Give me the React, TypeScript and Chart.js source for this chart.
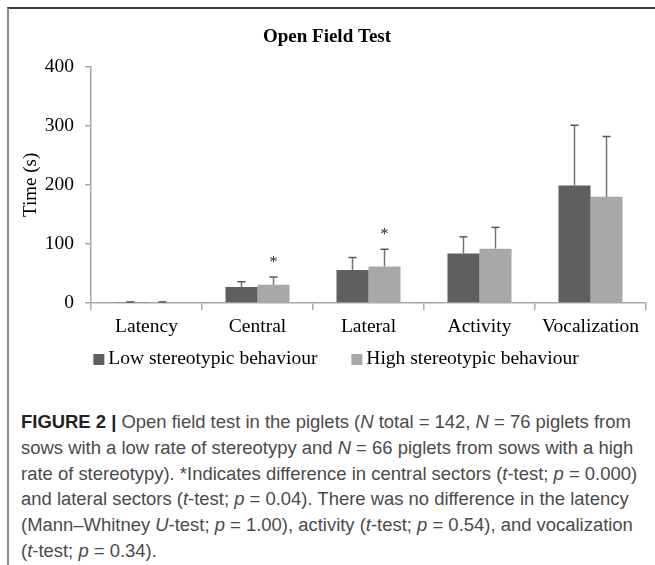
import React, { useEffect, useRef } from 'react';
import { Chart, registerables } from 'chart.js';

Chart.register(...registerables);

const categories = ['Latency', 'Central', 'Lateral', 'Activity', 'Vocalization'];
const lowMeans = [1.5, 27, 56, 84, 199];
const lowSD = [0.3, 9, 21, 28, 102];
const highMeans = [1.5, 31, 62, 92, 180];
const highSD = [0.3, 13, 29, 36, 102];
const significant = [false, true, true, false, false];
const yTicks = [0, 100, 200, 300, 400];
const seriesLabels = ['Low stereotypic behaviour', 'High stereotypic behaviour'];
const seriesColors = ['#5f5f5f', '#a8a8a8'];
const chartTitle = 'Open Field Test';
const yTitle = 'Time (s)';

const SERIF = '"Liberation Serif", "Times New Roman", serif';
const AXIS_COLOR = '#a9a9a9';

const errorBarPlugin = {
  id: 'errorBars',
  afterDatasetsDraw(chart: any) {
    const ctx = chart.ctx;
    const y = chart.scales.y;
    const means = [lowMeans, highMeans];
    const sds = [lowSD, highSD];
    ctx.save();
    chart.data.datasets.forEach((_ds: any, di: number) => {
      const meta = chart.getDatasetMeta(di);
      meta.data.forEach((bar: any, i: number) => {
        const top = y.getPixelForValue(means[di][i] + sds[di][i]);
        const x = bar.x;
        ctx.strokeStyle = '#737373';
        ctx.lineWidth = 1.5;
        ctx.beginPath();
        ctx.moveTo(x, bar.y);
        ctx.lineTo(x, top);
        ctx.stroke();
        ctx.strokeStyle = '#555555';
        ctx.beginPath();
        ctx.moveTo(x - 4, top);
        ctx.lineTo(x + 4, top);
        ctx.stroke();
      });
    });
    const meta = chart.getDatasetMeta(1);
    ctx.fillStyle = '#222222';
    ctx.font = '16px ' + SERIF;
    ctx.textAlign = 'center';
    ctx.textBaseline = 'middle';
    significant.forEach((s, i) => {
      if (!s) return;
      const bar = meta.data[i];
      const top = y.getPixelForValue(highMeans[i] + highSD[i]);
      ctx.fillText('*', bar.x, top - 14);
    });
    ctx.restore();
  },
};

const legendPlugin = {
  id: 'boxLegend',
  afterDraw(chart: any) {
    const ctx = chart.ctx;
    const datasets = chart.data.datasets;
    const boxSize = 11;
    const textGap = 4;
    const itemGap = 34;
    const centerX = 328;
    const boxTop = 345;
    const baseline = 355;
    ctx.save();
    ctx.font = '19.5px ' + SERIF;
    const widths = datasets.map((d: any) => ctx.measureText(d.label).width);
    const total =
      widths.reduce((a: number, w: number) => a + boxSize + textGap + w, 0) + itemGap * (datasets.length - 1);
    let x = centerX - total / 2;
    ctx.textAlign = 'left';
    ctx.textBaseline = 'alphabetic';
    datasets.forEach((d: any, i: number) => {
      ctx.fillStyle = d.backgroundColor;
      ctx.fillRect(x, boxTop, boxSize, boxSize);
      x += boxSize + textGap;
      ctx.fillStyle = '#000';
      ctx.fillText(d.label, x, baseline);
      x += widths[i] + itemGap;
    });
    ctx.restore();
  },
};

function ChartCanvas() {
  const ref = useRef<HTMLCanvasElement | null>(null);
  useEffect(() => {
    if (!ref.current) return;
    const chart = new Chart(ref.current, {
      type: 'bar',
      data: {
        labels: categories,
        datasets: [
          {
            label: seriesLabels[0],
            data: lowMeans,
            backgroundColor: seriesColors[0],
            categoryPercentage: 0.577,
            barPercentage: 1,
          },
          {
            label: seriesLabels[1],
            data: highMeans,
            backgroundColor: seriesColors[1],
            categoryPercentage: 0.577,
            barPercentage: 1,
          },
        ],
      },
      options: {
        responsive: false,
        animation: false,
        devicePixelRatio: 1,
        layout: { padding: { left: 0, right: 9, top: 0, bottom: 39 } },
        plugins: {
          title: {
            display: true,
            text: chartTitle,
            color: '#000',
            font: { family: SERIF, size: 19, weight: 'bold' },
            padding: { top: 17, bottom: 18 },
          },
          legend: { display: false },
          tooltip: { enabled: false },
        },
        scales: {
          x: {
            afterFit: (scale: any) => {
              scale.height = 42;
            },
            grid: {
              display: true,
              drawOnChartArea: false,
              offset: true,
              tickLength: 7,
              color: AXIS_COLOR,
              lineWidth: 1.5,
            },
            border: { color: AXIS_COLOR, width: 1.5 },
            ticks: {
              color: '#000',
              padding: 5,
              font: { family: SERIF, size: 19.5 },
              maxRotation: 0,
            },
          },
          y: {
            min: 0,
            max: 400,
            afterFit: (scale: any) => {
              scale.width = 83;
            },
            afterBuildTicks: (scale: any) => {
              scale.ticks = yTicks.map((v) => ({ value: v }));
            },
            grid: {
              display: true,
              drawOnChartArea: false,
              tickLength: 6,
              color: AXIS_COLOR,
              lineWidth: 1.5,
            },
            border: { color: AXIS_COLOR, width: 1.5 },
            ticks: {
              color: '#000',
              padding: 11,
              font: { family: SERIF, size: 19.5 },
            },
            title: {
              display: true,
              text: yTitle,
              color: '#000',
              font: { family: SERIF, size: 19 },
              padding: { top: 12, bottom: 0 },
            },
          },
        },
      },
      plugins: [errorBarPlugin, legendPlugin],
    } as any);
    return () => chart.destroy();
  }, []);
  return <canvas ref={ref} width={647} height={375} style={{ display: 'block', width: 647, height: 375 }} />;
}

const captionStyle: React.CSSProperties = {
  position: 'absolute',
  left: 21,
  top: 409,
  fontFamily: '"Liberation Sans", Arial, sans-serif',
  fontWeight: 400,
  fontSize: 18.45,
  lineHeight: '25.8px',
  color: '#4a4a4a',
  whiteSpace: 'nowrap',
};

export default function App() {
  return (
    <div style={{ position: 'absolute', left: 0, top: 0, width: 655, height: 565, overflow: 'hidden', background: '#fff' }}>
      <div
        style={{
          position: 'absolute',
          left: 7,
          top: 7,
          width: 700,
          height: 600,
          borderTop: '2px solid #3c3c3c',
          borderLeft: '2px solid #8c8c8c',
        }}
      />
      <div style={{ position: 'absolute', left: 8, top: 9 }}>
        <ChartCanvas />
      </div>
      <div style={captionStyle}>
        <div>
          <b style={{ fontWeight: 700, color: '#222' }}>FIGURE 2 |</b> Open field test in the piglets (<i>N</i> total = 142, <i>N</i> = 76 piglets from
        </div>
        <div>
          sows with a low rate of stereotypy and <i>N</i> = 66 piglets from sows with a high
        </div>
        <div>
          rate of stereotypy). *Indicates difference in central sectors (<i>t</i>-test; <i>p</i> = 0.000)
        </div>
        <div>
          and lateral sectors (<i>t</i>-test; <i>p</i> = 0.04). There was no difference in the latency
        </div>
        <div>
          (Mann–Whitney <i>U</i>-test; <i>p</i> = 1.00), activity (<i>t</i>-test; <i>p</i> = 0.54), and vocalization
        </div>
        <div>
          (<i>t</i>-test; <i>p</i> = 0.34).
        </div>
      </div>
    </div>
  );
}
